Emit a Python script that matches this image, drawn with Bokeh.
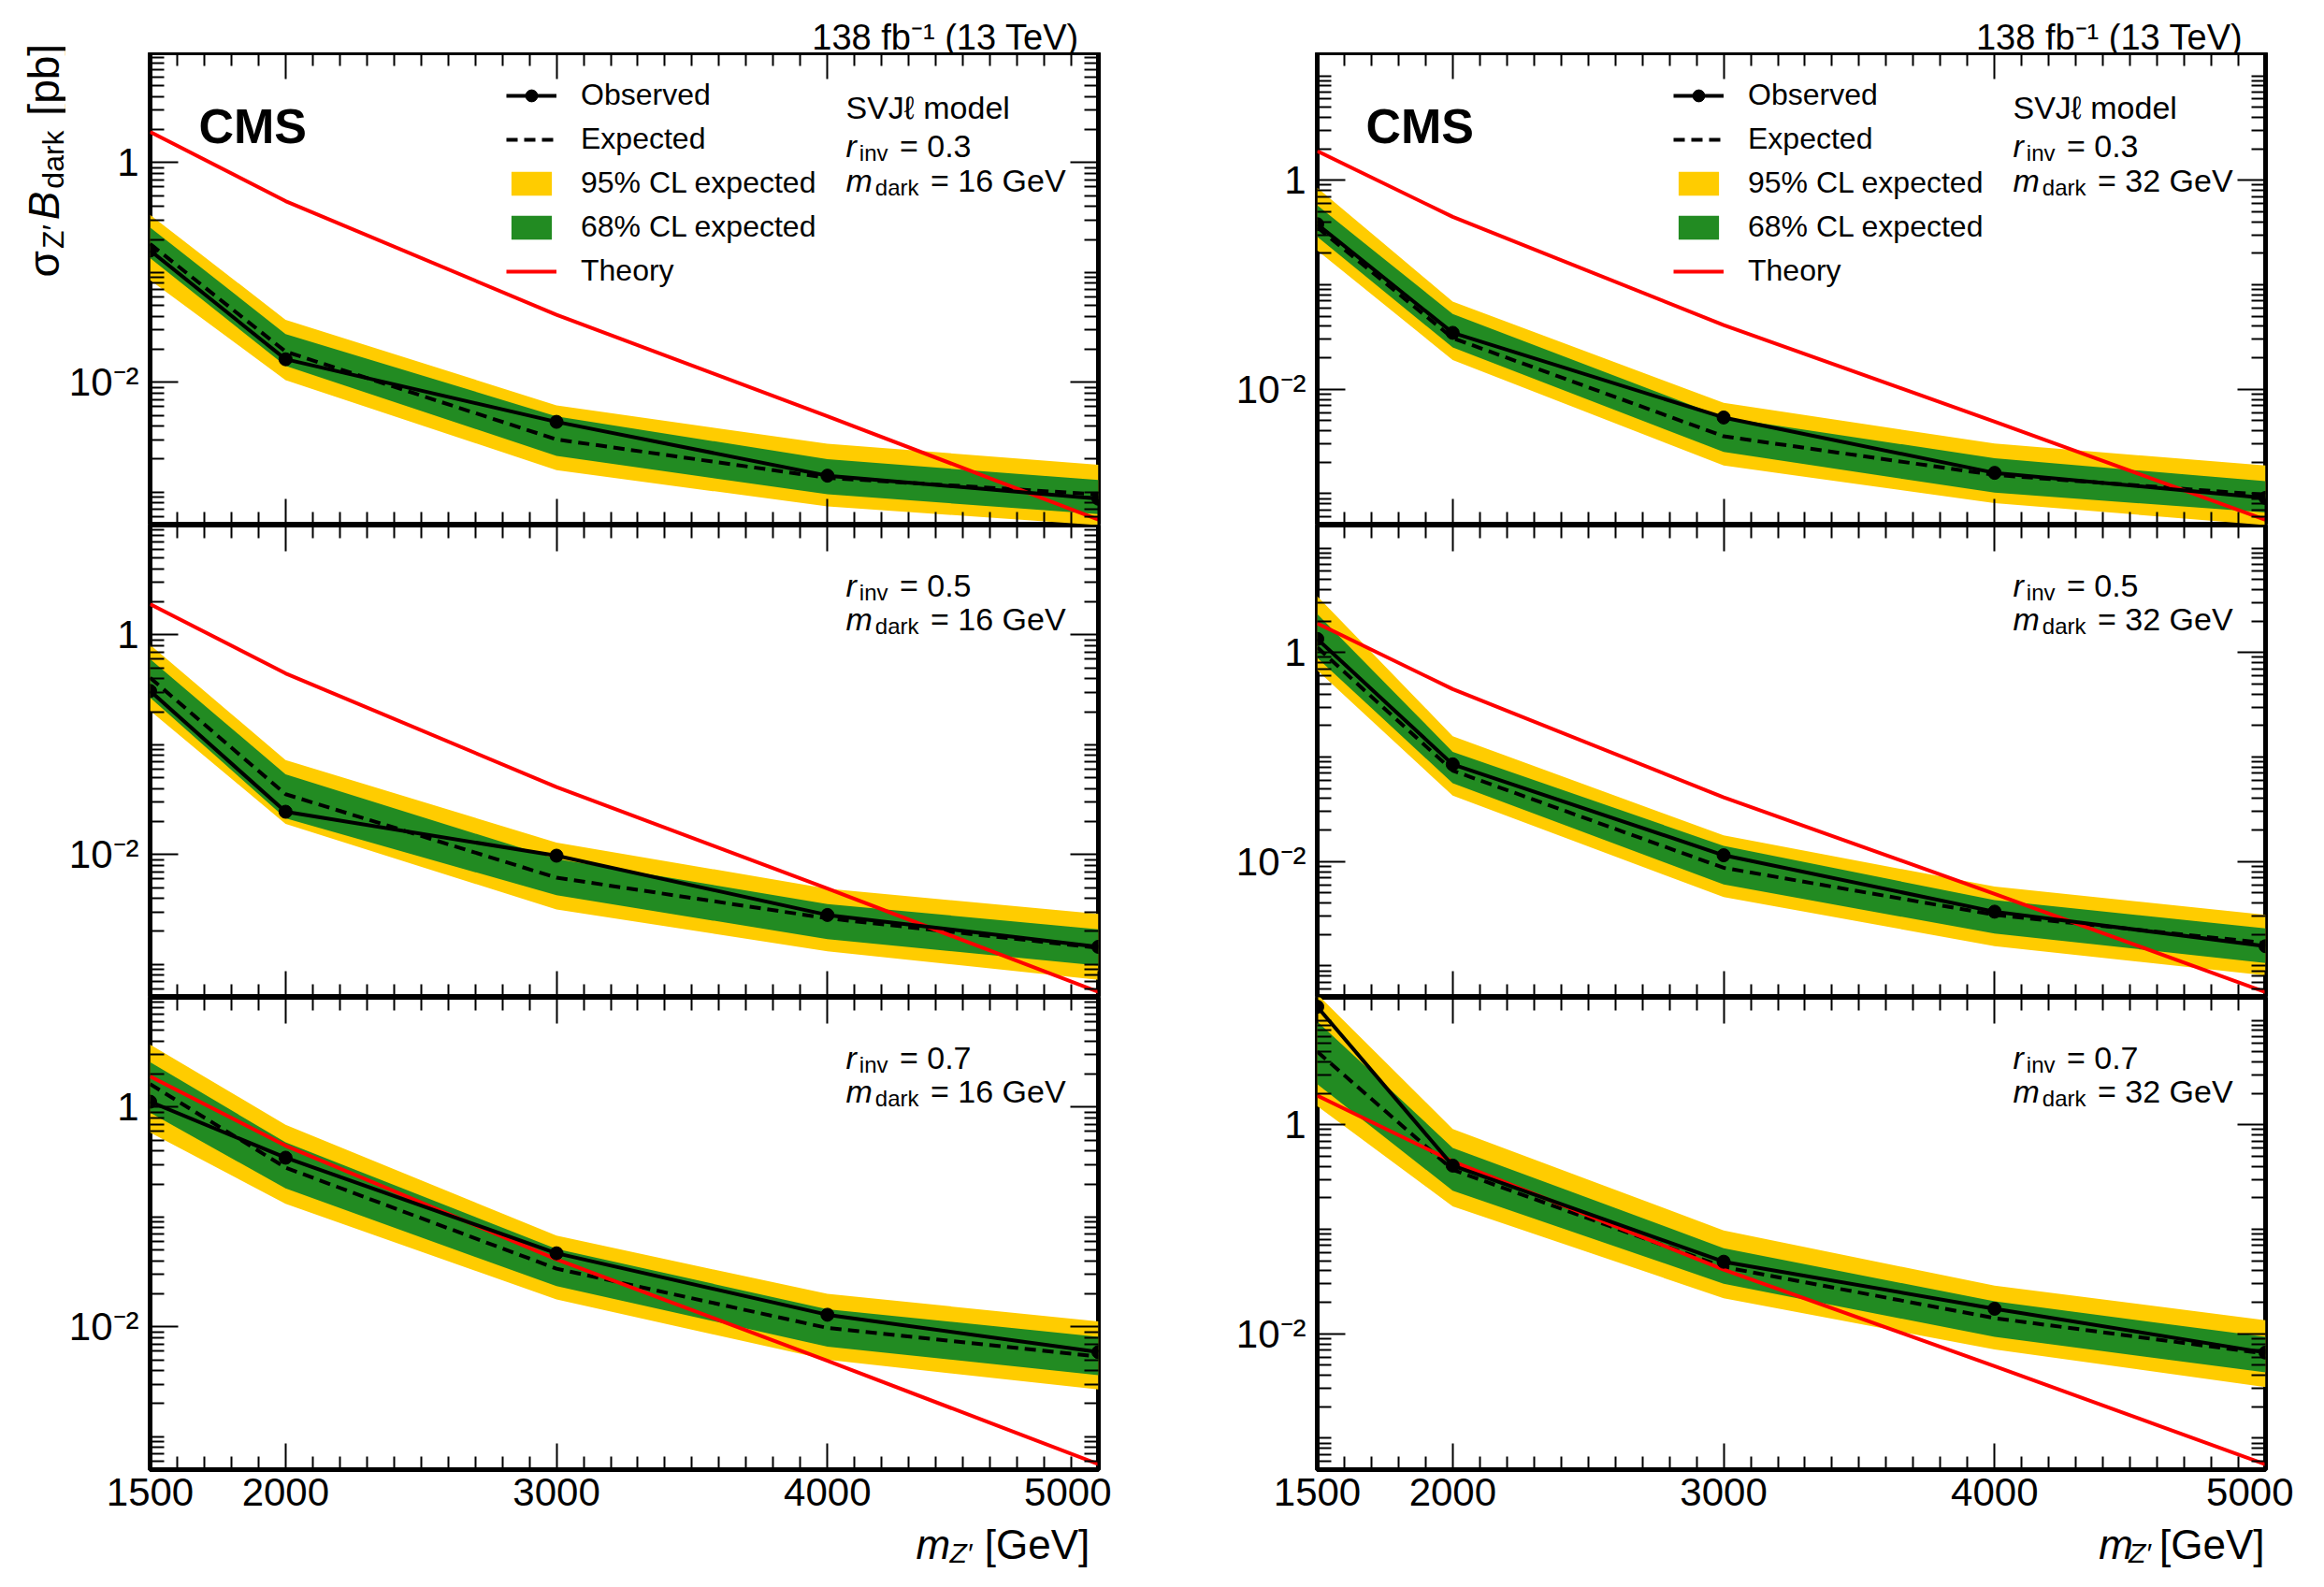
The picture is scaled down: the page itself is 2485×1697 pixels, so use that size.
import numpy as np
from bokeh.plotting import figure
from bokeh.models import (Range1d, LogAxis, LinearAxis, FixedTicker, Label, Legend, LegendItem,
                          CustomJSTickFormatter)
from bokeh.layouts import row, column
from bokeh.embed import file_html
from bokeh.resources import INLINE

# ---------------- data (log10 of limit in pb) ----------------
mass = [1500, 2000, 3000, 4000, 5000]
theory_log = [0.28, -0.35, -1.385, -2.31, -3.25]

L03_obs = [-0.80, -1.79, -2.36, -2.85, -3.06]
L03_exp = [-0.74, -1.72, -2.52, -2.87, -3.02]
L03_g_up = [-0.59, -1.56, -2.31, -2.70, -2.89]
L03_g_lo = [-0.87, -1.85, -2.67, -3.02, -3.20]
L03_y_up = [-0.475, -1.43, -2.21, -2.56, -2.75]
L03_y_lo = [-1.07, -1.98, -2.80, -3.13, -3.30]

L05_obs = [-0.51, -1.61, -2.01, -2.55, -2.84]
L05_exp = [-0.39, -1.45, -2.21, -2.58, -2.85]
L05_g_up = [-0.22, -1.27, -2.04, -2.45, -2.68]
L05_g_lo = [-0.57, -1.67, -2.37, -2.77, -3.01]
L05_y_up = [-0.09, -1.14, -1.89, -2.31, -2.54]
L05_y_lo = [-0.69, -1.72, -2.50, -2.88, -3.14]

L07_obs = [0.05, -0.46, -1.33, -1.89, -2.23]
L07_exp = [0.21, -0.55, -1.47, -2.01, -2.27]
L07_g_up = [0.41, -0.32, -1.29, -1.84, -2.09]
L07_g_lo = [-0.05, -0.74, -1.63, -2.18, -2.44]
L07_y_up = [0.57, -0.16, -1.17, -1.70, -1.95]
L07_y_lo = [-0.23, -0.88, -1.75, -2.30, -2.57]

R03_obs = [-0.42, -1.46, -2.27, -2.80, -3.04]
R03_exp = [-0.45, -1.51, -2.45, -2.82, -3.01]
R03_g_up = [-0.24, -1.28, -2.27, -2.66, -2.88]
R03_g_lo = [-0.54, -1.60, -2.60, -2.99, -3.18]
R03_y_up = [-0.07, -1.16, -2.13, -2.52, -2.73]
R03_y_lo = [-0.67, -1.72, -2.73, -3.09, -3.30]

R05_obs = [0.13, -1.07, -1.94, -2.48, -2.81]
R05_exp = [0.05, -1.13, -2.06, -2.51, -2.78]
R05_g_up = [0.37, -0.95, -1.85, -2.37, -2.64]
R05_g_lo = [-0.05, -1.25, -2.22, -2.69, -2.97]
R05_y_up = [0.54, -0.80, -1.75, -2.24, -2.51]
R05_y_lo = [-0.17, -1.37, -2.34, -2.81, -3.09]

R07_obs = [1.13, -0.39, -1.31, -1.76, -2.18]
R07_exp = [0.70, -0.43, -1.36, -1.85, -2.19]
R07_g_up = [0.99, -0.22, -1.18, -1.69, -2.03]
R07_g_lo = [0.39, -0.63, -1.52, -2.03, -2.37]
R07_y_up = [1.25, -0.04, -1.01, -1.54, -1.87]
R07_y_lo = [0.18, -0.78, -1.66, -2.15, -2.51]

x_ticks = [1500, 2000, 3000, 4000, 5000]

panels = [
    [("L03", L03_obs, L03_exp, L03_g_up, L03_g_lo, L03_y_up, L03_y_lo, "0.3", "16"),
     ("R03", R03_obs, R03_exp, R03_g_up, R03_g_lo, R03_y_up, R03_y_lo, "0.3", "32")],
    [("L05", L05_obs, L05_exp, L05_g_up, L05_g_lo, L05_y_up, L05_y_lo, "0.5", "16"),
     ("R05", R05_obs, R05_exp, R05_g_up, R05_g_lo, R05_y_up, R05_y_lo, "0.5", "32")],
    [("L07", L07_obs, L07_exp, L07_g_up, L07_g_lo, L07_y_up, L07_y_lo, "0.7", "16"),
     ("R07", R07_obs, R07_exp, R07_g_up, R07_g_lo, R07_y_up, R07_y_lo, "0.7", "32")],
]

FONT = "Liberation Sans"
YEL = "#FFCC00"
GRN = "#228B22"
RED = "#FF0000"
FW, FH = 1014, 505
TOPH, BOTB, XLH = 56, 60, 56
YLW = 70
BL = [82, 220]
BR = [14, 30]

W = {'r': .333, 'i': .222, 'n': .556, 'v': .5, ' ': .278, '=': .584, '.': .278, 'm': .833, 'd': .556,
     'a': .556, 'k': .5, 'G': .778, 'e': .556, 'V': .667, 'S': .667, 'J': .5, 'ℓ': .42, 'o': .556,
     'l': .222, 'σ': .6, 'Z': .611, '′': .25, 'B': .667, '[': .278, 'p': .556, 'b': .556, ']': .278,
     'f': .278, '(': .333, ')': .333, 'T': .611, '−': .584, '-': .333}


def tw(s, size):
    return sum(W.get(c, .556) for c in s) * size


def pieces(p, x0, y0, parts, units="screen", angle=0.0, gap=3):
    """parts: (text, size, style, shift) shift up (perpendicular to baseline)"""
    pos = 0.0
    for text, size, style, shift in parts:
        lead = len(text) - len(text.lstrip(" "))
        pos += lead * W[' '] * size
        t = text.lstrip(" ")
        if angle == 0:
            x, y = x0 + pos, y0 + shift
        else:
            x, y = x0 - shift, y0 + pos
        p.add_layout(Label(x=x, y=y, x_units=units, y_units=units, text=t, angle=angle,
                           text_font=FONT, text_font_size=f"{size}px", text_font_style=style,
                           text_baseline="alphabetic", text_align="left", text_color="black"))
        pos += tw(t, size) + gap


def ptotal(parts, gap=3):
    return sum(tw(t.lstrip(" "), s) + gap + (len(t) - len(t.lstrip(" "))) * W[' '] * s
               for t, s, _, _ in parts)


def strip(w, h):
    s = figure(width=w, height=h, x_range=Range1d(0, w), y_range=Range1d(0, h),
               output_backend="svg", toolbar_location=None, x_axis_location=None,
               y_axis_location=None, min_border=0)
    s.outline_line_color = None
    s.grid.visible = False
    s.background_fill_color = "white"
    s.border_fill_color = "white"
    return s


yfmt = CustomJSTickFormatter(code="""
if (Math.abs(tick - 1) < 1e-9) return "1";
if (Math.abs(tick - 0.01) < 1e-12) return "10\u207b\u00b2";
return "";
""")
blank = CustomJSTickFormatter(code="return '';")

cols = [[], []]
for ri, prow in enumerate(panels):
    for ci, (name, obs, exp, gup, glo, yup, ylo, rinv, mdark) in enumerate(prow):
        ytop = 1.0 if ci == 0 else 1.22
        ybot = -3.3
        p = figure(x_axis_type="linear", y_axis_type="log", output_backend="svg",
                   toolbar_location=None, frame_width=FW, frame_height=FH,
                   x_range=Range1d(1500, 5000), y_range=Range1d(10 ** ybot, 10 ** ytop),
                   min_border_left=BL[ci], min_border_right=BR[ci],
                   min_border_top=0, min_border_bottom=BOTB if ri == 2 else 0)
        p.background_fill_color = "white"
        p.border_fill_color = "white"
        p.grid.visible = False
        p.outline_line_color = "black"
        p.outline_line_width = 5

        xs = np.array(mass, dtype=float)
        r95 = p.varea(x=xs, y1=10 ** np.array(ylo), y2=10 ** np.array(yup), fill_color=YEL)
        r68 = p.varea(x=xs, y1=10 ** np.array(glo), y2=10 ** np.array(gup), fill_color=GRN)
        rexp = p.line(xs, 10 ** np.array(exp), line_color="black", line_width=4, line_dash="12 7")
        rth = p.line(xs, 10 ** np.array(theory_log), line_color=RED, line_width=4)
        robs = p.line(xs, 10 ** np.array(obs), line_color="black", line_width=4)
        rdot = p.scatter(xs, 10 ** np.array(obs), size=14, color="black")

        xmin = [v for v in range(1600, 5000, 100) if v not in x_ticks]
        ymaj = [1e-2, 1.0]
        ymin = []
        for n in range(-4, 2):
            for k in range(1, 10):
                v = k * 10.0 ** n
                if v not in ymaj:
                    ymin.append(v)
        bottom = p.below[0]
        left = p.left[0]
        bottom.ticker = FixedTicker(ticks=x_ticks, minor_ticks=xmin)
        left.ticker = FixedTicker(ticks=ymaj, minor_ticks=ymin)
        top = LinearAxis(ticker=FixedTicker(ticks=x_ticks, minor_ticks=xmin), formatter=blank)
        right = LogAxis(ticker=FixedTicker(ticks=ymaj, minor_ticks=ymin), formatter=blank)
        p.add_layout(top, "above")
        p.add_layout(right, "right")
        for ax in (bottom, top):
            ax.major_tick_in = 28
            ax.minor_tick_in = 14
        for ax in (left, right):
            ax.major_tick_in = 30
            ax.minor_tick_in = 15
        for ax in (bottom, top, left, right):
            ax.major_tick_out = 0
            ax.minor_tick_out = 0
            ax.axis_line_color = None
            ax.major_tick_line_width = 2
            ax.minor_tick_line_width = 2
            ax.major_label_text_font = FONT
            ax.major_label_text_color = "black"
            ax.major_label_text_font_size = "42px"
        left.formatter = yfmt
        left.major_label_standoff = 12
        top.major_label_text_font_size = "4px"
        top.major_label_standoff = 0
        right.major_label_text_font_size = "4px"
        right.major_label_standoff = 0
        if ri == 2:
            bottom.major_label_standoff = 9
        else:
            bottom.formatter = blank
            bottom.major_label_text_font_size = "4px"
            bottom.major_label_standoff = 0

        if ri == 0:
            p.add_layout(Label(x=52, y=FH - 78, x_units="screen", y_units="screen", text="CMS",
                               text_font=FONT, text_font_size="52px", text_font_style="bold",
                               text_color="black", text_baseline="alphabetic"))
            pieces(p, 744, FH - 58, [("SVJℓ model", 34, "normal", 0)])
            pieces(p, 744, FH - 99, [("r", 34, "italic", 0), ("inv", 24, "normal", -8),
                                     (" = " + rinv, 34, "normal", 0)])
            pieces(p, 744, FH - 136, [("m", 34, "italic", 0), ("dark", 24, "normal", -8),
                                      (" = " + mdark + " GeV", 34, "normal", 0)])
            leg = Legend(items=[LegendItem(label="Observed", renderers=[robs, rdot]),
                                LegendItem(label="Expected", renderers=[rexp]),
                                LegendItem(label="95% CL expected", renderers=[r95]),
                                LegendItem(label="68% CL expected", renderers=[r68]),
                                LegendItem(label="Theory", renderers=[rth])],
                         location=(381, FH - 22 - 235), padding=0, margin=0, spacing=0,
                         label_height=47, glyph_height=32, glyph_width=54, label_standoff=26,
                         label_text_font=FONT, label_text_font_size="32px",
                         label_text_color="black", label_text_baseline="middle",
                         background_fill_alpha=0, border_line_color=None)
            p.add_layout(leg)
        else:
            pieces(p, 744, FH - 64, [("r", 34, "italic", 0), ("inv", 24, "normal", -8),
                                     (" = " + rinv, 34, "normal", 0)])
            pieces(p, 744, FH - 100, [("m", 34, "italic", 0), ("dark", 24, "normal", -8),
                                      (" = " + mdark + " GeV", 34, "normal", 0)])
        cols[ci].append(p)

layout_cols = []
for ci in range(2):
    wtot = BL[ci] + FW + BR[ci]
    ts = strip(wtot, TOPH)
    ts.add_layout(Label(x=BL[ci] + FW, y=17, text="138 fb\u207b\u00b9 (13 TeV)", text_font=FONT,
                        text_font_size="38px", text_align="right", text_baseline="alphabetic",
                        text_color="black"))
    bs = strip(wtot, XLH)
    parts = [("m", 44, "italic", 0), ("Z′", 30, "italic", -9), (" [GeV]", 44, "normal", 0)]
    pieces(bs, BL[ci] + FW - ptotal(parts) + 4, 36, parts, units="data")
    layout_cols.append(column([ts] + cols[ci] + [bs], spacing=0))

HT = TOPH + 3 * FH + BOTB + XLH
ys = strip(YLW, HT)
parts = [("σ", 46, "normal", 0), ("Z′", 32, "normal", -10), ("B", 46, "italic", 0),
         ("dark", 32, "normal", -10), (" [pb]", 46, "normal", 0)]
pieces(ys, 46, HT - TOPH - 240, parts, units="data", angle=np.pi / 2)

page = row([ys] + layout_cols, spacing=0)
open("out.html", "w").write(file_html(page, INLINE))
